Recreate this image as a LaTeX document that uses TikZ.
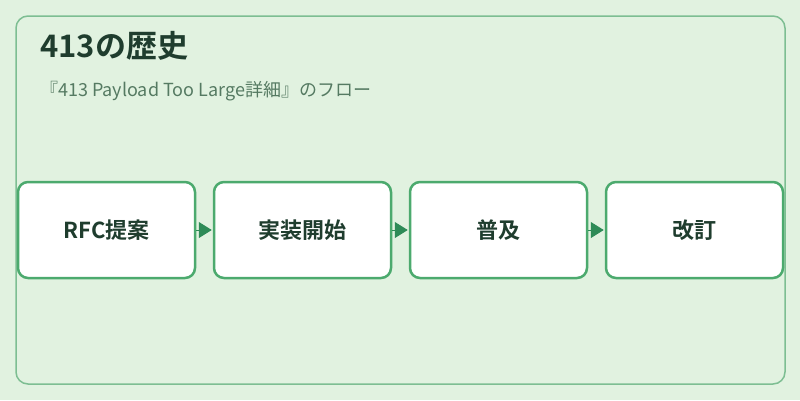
\documentclass[tikz,border=0pt]{standalone}
\usepackage{fontspec}
\setmainfont{Noto Sans CJK JP}[BoldFont={Noto Sans CJK JP Bold}]
\usetikzlibrary{positioning,arrows.meta}

\definecolor{bggreen}{HTML}{E1F2E0}
\definecolor{framegreen}{HTML}{7DBE92}
\definecolor{boxgreen}{HTML}{4CAA6E}
\definecolor{arrowgreen}{HTML}{2E8B57}
\definecolor{titlegreen}{HTML}{1F3D2E}
\definecolor{subgreen}{HTML}{557A62}

\begin{document}
\begin{tikzpicture}[
        x = 1pt, y = -1pt,
        shorten >= 1 pt,
        stage/.style = {
            draw = boxgreen, fill = white,
            line width = 2.5pt,
            rounded corners = 10pt,
            align = center,
            minimum width = 177pt,
            minimum height = 96pt,
            font = \bfseries\fontsize{22pt}{26pt}\selectfont,
            text = titlegreen,
            node distance = 16.5pt,
        },
        ]

        % Achtergrond
        \fill[bggreen] (0,0) rectangle (800,400);
        \draw[framegreen, line width = 1.5pt, rounded corners = 12pt] (16,16) rectangle (785,384);

        % Titels
        \node[anchor = base west, inner sep = 0, text = titlegreen,
            font = \bfseries\fontsize{31pt}{36pt}\selectfont] (title) at (40,57) {413の歴史};
        \node[anchor = base west, inner sep = 0, text = subgreen,
            font = \fontsize{18pt}{22pt}\selectfont] (subtitle) at (40,96) {『413 Payload Too Large詳細』のフロー};

        % Stappen
        \node[stage] (proposal) at (106.5,230) {RFC提案};
        \node[stage, right = of proposal] (implementation) {実装開始};
        \node[stage, right = of implementation] (adoption) {普及};
        \node[stage, right = of adoption] (revision) {改訂};

        % Overgangen
        \path
            [
            -{Triangle[length = 13pt, width = 16pt]},
            draw = arrowgreen, fill = arrowgreen, line width = 1pt
            ]
            (proposal) edge (implementation)
            (implementation) edge (adoption)
            (adoption) edge (revision);
    \end{tikzpicture}
\end{document}
